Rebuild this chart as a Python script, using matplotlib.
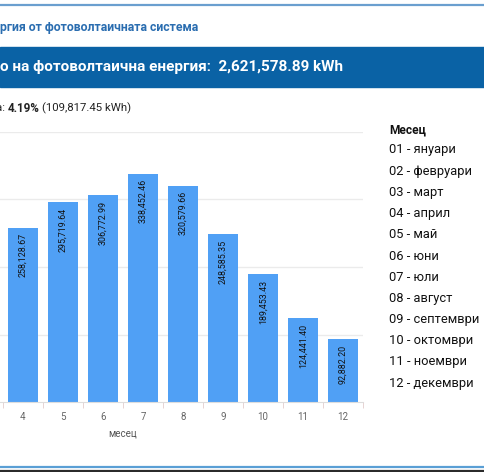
import matplotlib
matplotlib.use('Agg')
import matplotlib.pyplot as plt
from matplotlib.patches import Rectangle
from matplotlib.lines import Line2D

plt.rcParams['font.family'] = ['Roboto', 'DejaVu Sans']

# Данни (видими месеци 4-12)
months = [4, 5, 6, 7, 8, 9, 10, 11, 12]
energy = [258128.67, 295719.64, 306772.99, 338452.46, 320579.66,
          248585.35, 189453.43, 124441.40, 92882.20]
legend_title = 'Месец'
legend_items = ['01 - януари', '02 - февруари', '03 - март', '04 - април',
                '05 - май', '06 - юни', '07 - юли', '08 - август',
                '09 - септември', '10 - октомври', '11 - ноември', '12 - декември']
title_txt = 'ргия от фотоволтаичната система'
band_txt = 'о на фотоволтаична енергия:  2,621,578.89 kWh'

W, H = 484, 472
fig = plt.figure(figsize=(W / 100, H / 100), dpi=100)


def fy(px):
    return 1 - px / H


def fx(px):
    return px / W


# рамки и лента
fig.add_artist(Line2D([0, 1], [fy(5), fy(5)], color='#6a9fcf', lw=1.6, transform=fig.transFigure))
fig.add_artist(Rectangle((0, fy(87)), 1, 40 / H, color='#0a62a5', transform=fig.transFigure))
fig.add_artist(Line2D([0, 1], [fy(467), fy(467)], color='#5a9fd5', lw=1.6, transform=fig.transFigure))
fig.add_artist(Line2D([0, 1], [fy(471), fy(471)], color='#2b2b2b', lw=1.6, transform=fig.transFigure))

fig.text(fx(0), fy(27), title_txt, color='#2a6db0', fontsize=8.8, fontweight='bold', va='center')
fig.text(fx(0), fy(67), band_txt, color='white', fontsize=11, fontweight='bold', va='center')

# ред с процента
r = fig.canvas.get_renderer()
t1 = fig.text(fx(-4), fy(108), 'а: ', fontsize=8.2, va='center', color='#222222')
x = t1.get_window_extent(r).x1
t2 = fig.text(x / W, fy(108), '4.19%', fontsize=8.4, fontweight='bold', va='center', color='#222222')
x = t2.get_window_extent(r).x1
fig.text(x / W + 0.004, fy(108), '(109,817.45 kWh)', fontsize=8.2, va='center', color='#222222')

# графика
ax = fig.add_axes([fx(-117), 70 / H, 480 / W, 270 / H])
ax.bar(months, energy, width=0.75, color='#50a0f5', zorder=2)
for m, v in zip(months, energy):
    ax.annotate(f'{v:,.2f}', (m, v), xytext=(0, -4), textcoords='offset points',
                rotation=90, ha='center', va='top', fontsize=6.4, color='#111111')

ax.set_xlim(0.5, 12.5)
ax.set_ylim(0, 400000)
ax.set_yticks([100000, 200000, 300000, 400000])
ax.yaxis.grid(True, color='#ebebeb', lw=1)
ax.set_axisbelow(True)
ax.tick_params(axis='y', length=0, labelleft=False)
ax.set_xticks(months)
ax.set_xticks([i + 0.5 for i in range(0, 13)], minor=True)
ax.tick_params(axis='x', which='major', length=0, pad=7, labelsize=7, labelcolor='#666666')
ax.tick_params(axis='x', which='minor', length=4, color='#e3cccc')
for s in ['top', 'right', 'left']:
    ax.spines[s].set_visible(False)
ax.spines['bottom'].set_color('#dddddd')
ax.set_xlabel('месец', fontsize=7, color='#555555', labelpad=5)

# легенда
fig.text(fx(389), fy(130), legend_title, fontsize=8.6, fontweight='bold', va='center', color='#111111')
for i, s in enumerate(legend_items):
    fig.text(fx(389), fy(150 + 21.2 * i), s, fontsize=9.3, va='center', color='#111111')

fig.savefig('out.png', dpi=100)
